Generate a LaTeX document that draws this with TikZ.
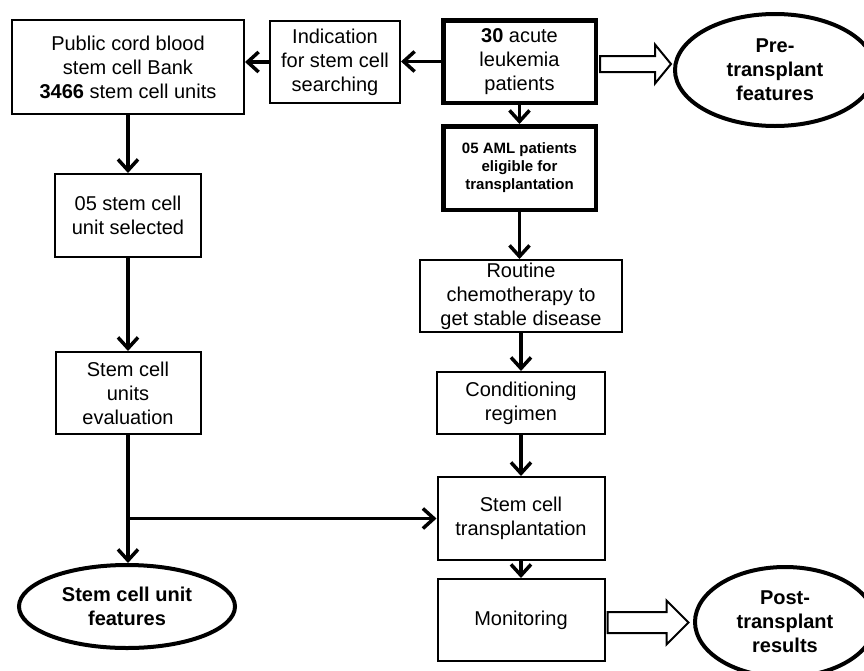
\documentclass[tikz,border=0pt]{standalone}
\usepackage{fontspec}
\setmainfont{Liberation Sans}
\usetikzlibrary{arrows.meta, positioning, shapes.geometric}

\begin{document}
\begin{tikzpicture}[x=1pt, y=1pt,
  box/.style={rectangle, draw, line width=2pt, align=center, inner sep=1pt,
              font=\fontsize{20}{24}\selectfont},
  keybox/.style={box, line width=4.5pt},
  result/.style={ellipse, draw, line width=4pt, align=center, inner sep=0pt,
                 font=\fontsize{20}{24}\selectfont\bfseries},
  arrow/.style={-{Straight Barb[length=11pt, width=20pt]}, line width=3.5pt},
  hollow/.style={draw, line width=2pt, fill=white, line join=miter}
]
\useasboundingbox (0,0) rectangle (864,-670);

% patients column
\node[keybox, minimum width=152.5pt, minimum height=82.5pt] (acute) at (519.5,-61.5)
  {\textbf{30} acute\\leukemia\\patients};
\node[keybox, minimum width=152.5pt, minimum height=83.5pt, below=19pt of acute,
      font=\fontsize{15}{18}\selectfont\bfseries] (aml)
  {05 AML patients\\eligible for\\transplantation};
\node[box, minimum width=202pt, minimum height=72pt, below=47pt of aml, xshift=1.5pt] (chemo)
  {Routine\\chemotherapy to\\get stable disease};
\node[box, minimum width=168pt, minimum height=62pt, below=38pt of chemo] (cond)
  {Conditioning\\regimen};
\node[box, minimum width=167pt, minimum height=83pt, below=41pt of cond] (transp)
  {Stem cell\\transplantation};
\node[box, minimum width=167pt, minimum height=82pt, below=17pt of transp] (monit)
  {Monitoring};

% stem cell column
\node[box, minimum width=130pt, minimum height=82pt] (indic) at (335,-62)
  {Indication\\for stem cell\\searching};
\node[box, minimum width=232pt, minimum height=94pt] (bank) at (128,-67)
  {Public cord blood\\stem cell Bank\\\textbf{3466} stem cell units};
\node[box, minimum width=146pt, minimum height=83pt, below=58pt of bank] (select)
  {05 stem cell\\unit selected};
\node[box, minimum width=145pt, minimum height=82pt, below=93pt of select] (eval)
  {Stem cell\\units\\evaluation};

% outcomes
\node[result, minimum width=200pt, minimum height=112pt] (pre) at (775,-70)
  {Pre-\\transplant\\features};
\node[result, minimum width=216pt, minimum height=83pt] (unitfeat) at (127,-606.5)
  {Stem cell unit\\features};
\node[result, minimum width=180pt, minimum height=110pt] (post) at (785,-622)
  {Post-\\transplant\\results};

% connectors
\draw[arrow] (acute.west) -- (acute.west -| indic.east);
\draw[arrow] (indic.west) -- (indic.west -| bank.east);
\draw[arrow] (bank.south) -- (select.north);
\draw[arrow] (select.south) -- (eval.north);
\draw[arrow] (eval.south) -- (eval.south |- unitfeat.north);
\coordinate (split) at (eval.south |- transp.west);
\draw[arrow] (split) -- (transp.west);

\draw[arrow] (acute.south) -- (aml.north);
\draw[arrow] (aml.south) -- (aml.south |- chemo.north);
\draw[arrow] (chemo.south) -- (cond.north);
\draw[arrow] (cond.south) -- (transp.north);
\draw[arrow] (transp.south) -- (monit.north);

% block arrows
\draw[hollow] ([yshift=-2.5pt]acute.east) ++(2,8) -- ++(55,0) -- ++(0,11.5)
  -- ++(16,-19.5) -- ++(-16,-19.5) -- ++(0,11.5) -- ++(-55,0) -- cycle;
\draw[hollow] ([yshift=-2.5pt]monit.east) ++(2,10.5) -- ++(59,0) -- ++(0,11.5)
  -- ++(22,-22) -- ++(-22,-22) -- ++(0,11.5) -- ++(-59,0) -- cycle;
\end{tikzpicture}
\end{document}
